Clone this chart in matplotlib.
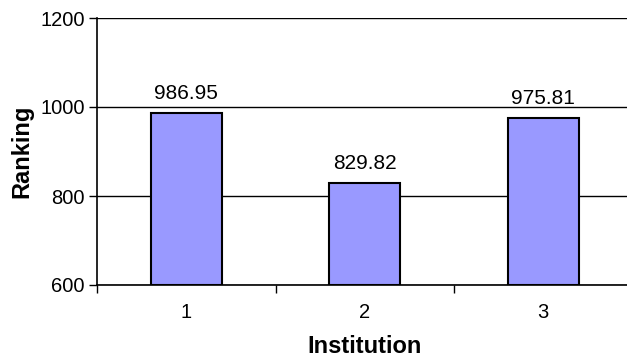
import matplotlib
matplotlib.use('Agg')
import matplotlib.pyplot as plt

# ranking per institution
institutions = ['1', '2', '3']
rankings = [986.95, 829.82, 975.81]

plt.rcParams['font.family'] = ['Liberation Sans', 'DejaVu Sans']

fig = plt.figure(figsize=(6.27, 3.57), dpi=100)
ax = fig.add_axes([97 / 627, 72 / 357, 535.5 / 627, 267 / 357])

x = range(len(institutions))
ax.bar(x, [r - 600 for r in rankings], bottom=600, width=0.4,
       color='#9999FF', edgecolor='black', linewidth=1.5, zorder=3)

for xi, r in zip(x, rankings):
    ax.annotate('%.2f' % r, (xi, r), xytext=(0, 10), textcoords='offset points',
                ha='center', va='baseline', fontsize=15)

ax.set_ylim(600, 1200)
ax.set_xlim(-0.5, 2.5)
ax.set_yticks([600, 800, 1000, 1200])
ax.set_xticks([-0.5, 0.5, 1.5, 2.5])
ax.set_xticklabels([])
ax.set_xticks(list(x), minor=True)
ax.set_xticklabels(institutions, minor=True)
ax.tick_params(axis='x', which='minor', length=0, labelsize=14.5, pad=13)
ax.tick_params(axis='x', which='major', direction='out', length=6, width=1)
ax.tick_params(axis='y', direction='out', length=6, width=1, labelsize=14.5, pad=3)

ax.grid(axis='y', color='black', linewidth=1, zorder=0)
for side in ['top', 'right']:
    ax.spines[side].set_visible(False)
ax.spines['left'].set_linewidth(1.2)
ax.spines['bottom'].set_linewidth(1.2)

ax.set_ylabel('Ranking', fontsize=17, fontweight='bold', labelpad=5)
ax.set_xlabel('Institution', fontsize=17, fontweight='bold', labelpad=9)

plt.savefig('out.png', dpi=100)
